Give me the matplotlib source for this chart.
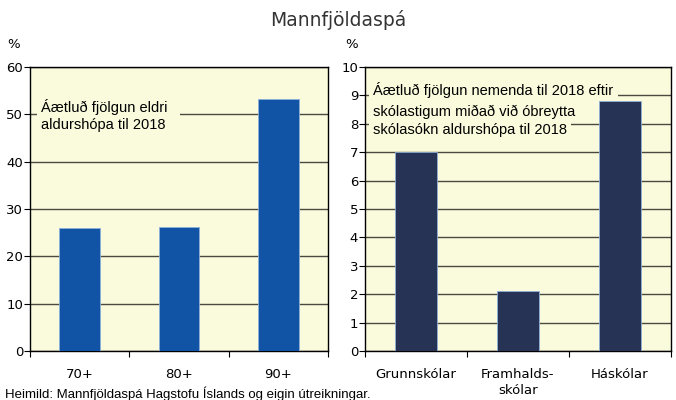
import matplotlib
matplotlib.use("Agg")
import matplotlib.pyplot as plt
import numpy as np

plt.rcParams['font.family'] = ['DejaVu Sans']

# data
aldur = ['70+', '80+', '90+']
fjolgun_aldur = [26.0, 26.3, 53.2]
skolastig = ['Grunnskólar', 'Framhalds-\nskólar', 'Háskólar']
fjolgun_nem = [7.0, 2.1, 8.8]

bg = '#FAFADC'
grid_c = '#4A4A40'

fig = plt.figure(figsize=(6.76, 4.0), dpi=100)
ax1 = fig.add_axes([30/676, 1-351/400, 298/676, 284/400])
ax2 = fig.add_axes([365/676, 1-351/400, 306/676, 284/400])


def teikna(ax, cats, vals, color, ymax, step):
    x = np.arange(len(cats))
    ax.set_facecolor(bg)
    ax.bar(x, vals, width=0.41, color=color, edgecolor='#8FB0D8', linewidth=0.6, zorder=3)
    ax.set_xlim(-0.5, len(cats) - 0.5)
    ax.set_ylim(0, ymax)
    ax.set_yticks(np.arange(0, ymax + step, step))
    ax.yaxis.grid(True, color=grid_c, linewidth=1.0, zorder=0)
    ax.set_axisbelow(True)
    ax.set_xticks(x)
    ax.set_xticklabels(cats, fontsize=9.5, linespacing=1.35)
    ax.set_xticks(np.arange(-0.5, len(cats)), minor=True)
    ax.tick_params(axis='x', which='major', length=0, pad=12)
    ax.tick_params(axis='x', which='minor', length=4, direction='out', width=0.8)
    ax.tick_params(axis='y', length=4, width=0.8, labelsize=9.5, pad=1)
    for s in ax.spines.values():
        s.set_color('black')
        s.set_linewidth(1.0)


def merki(ax, x, y, s):
    # background box first (hides gridlines), then the text on top
    ax.text(x, y, s, fontsize=10.5, va='center', fontfamily='Liberation Sans', color='none',
            bbox=dict(facecolor=bg, edgecolor='none', pad=3), zorder=2)
    ax.text(x, y, s, fontsize=10.5, va='center', fontfamily='Liberation Sans', zorder=2.5)


teikna(ax1, aldur, fjolgun_aldur, '#1154A5', 60, 10)
teikna(ax2, skolastig, fjolgun_nem, '#263354', 10, 1)

merki(ax1, -0.39, 51.5, 'Áætluð fjölgun eldri  ')
merki(ax1, -0.39, 47.7, 'aldurshópa til 2018')
merki(ax2, -0.42, 9.19, 'Áætluð fjölgun nemenda til 2018 eftir')
merki(ax2, -0.42, 8.42, 'skólastigum miðað við óbreytta')
merki(ax2, -0.42, 7.78, 'skólasókn aldurshópa til 2018')

fig.text(0.5, 1-20/400, 'Mannfjöldaspá', ha='center', va='center', fontsize=13.5, color='#333333')
fig.text(14/676, 1-44/400, '%', ha='center', va='center', fontsize=9.5)
fig.text(352/676, 1-44/400, '%', ha='center', va='center', fontsize=9.5)
fig.text(5/676, 1-394/400, 'Heimild: Mannfjöldaspá Hagstofu Íslands og eigin útreikningar.',
         ha='left', va='center', fontsize=9.5, fontfamily='Liberation Sans')

fig.savefig('out.png', dpi=100)
